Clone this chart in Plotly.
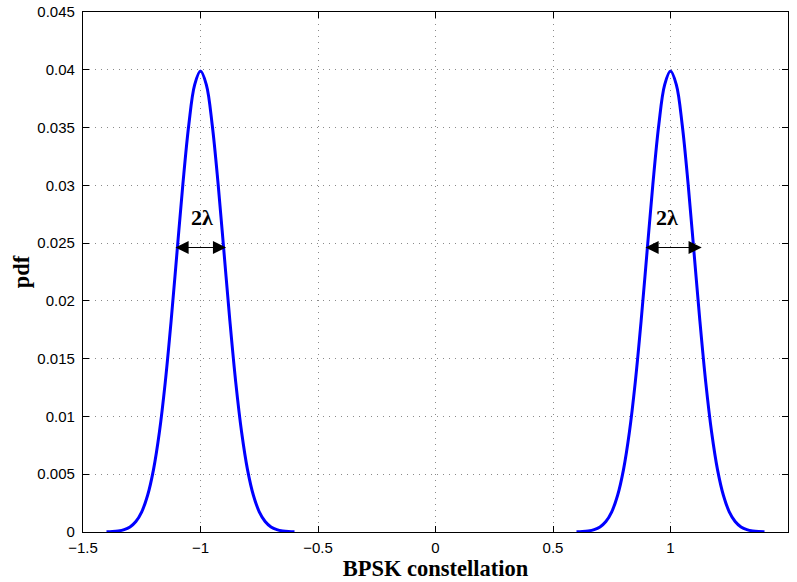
import plotly.graph_objects as go

# distance from centre (BPSK symbol) and pdf values
offsets = [-0.4, -0.375, -0.35, -0.325, -0.3, -0.275, -0.25, -0.225, -0.2, -0.175, -0.15, -0.125,
           -0.1, -0.075, -0.05, -0.025, 0.0, 0.025, 0.05, 0.075, 0.1, 0.125, 0.15, 0.175,
           0.2, 0.225, 0.25, 0.275, 0.3, 0.325, 0.35, 0.375, 0.4]
pdf_vals = [0.0000134, 0.000035, 0.0000874, 0.000203, 0.00044, 0.00091, 0.00175, 0.00318,
            0.0054, 0.00863, 0.01295, 0.01827, 0.0242, 0.0301, 0.0352, 0.0387, 0.0399,
            0.0387, 0.0352, 0.0301, 0.0242, 0.01827, 0.01295, 0.00863, 0.0054, 0.00318,
            0.00175, 0.00091, 0.00044, 0.000203, 0.0000874, 0.000035, 0.0000134]
symbols = [-1, 1]

arrow_y = 0.02462
arrow_ends = [(-1.113, -0.891), (0.887, 1.133)]
label_pos = [(-0.995, 0.02726), (0.984, 0.02726)]
label_text = "2λ"

fig = go.Figure()
for s in symbols:
    fig.add_trace(go.Scatter(
        x=[s + o for o in offsets], y=pdf_vals, mode="lines",
        line=dict(color="#0000ff", width=3, shape="spline"),
        showlegend=False, hoverinfo="skip"))

for (x0, x1), (lx, ly) in zip(arrow_ends, label_pos):
    fig.add_annotation(x=x1, y=arrow_y, ax=x0, ay=arrow_y, xref="x", yref="y",
                       axref="x", ayref="y", text="", showarrow=True,
                       arrowhead=2, startarrowhead=2, arrowside="end+start",
                       arrowsize=2.2, startarrowsize=2.2, arrowwidth=1.2,
                       arrowcolor="black")
    fig.add_annotation(x=lx, y=ly, xref="x", yref="y", text="<b>" + label_text + "</b>",
                       showarrow=False,
                       font=dict(family="Liberation Serif, Times New Roman, serif",
                                 size=22, color="black"))

axis_common = dict(
    showline=True, linecolor="black", linewidth=1.2, mirror="ticks",
    ticks="inside", ticklen=6, tickwidth=1, tickcolor="black",
    showgrid=True, gridcolor="#8a8a8a", griddash="1px,5px", gridwidth=1,
    zeroline=False, automargin=False,
    tickfont=dict(family="Liberation Sans, Arial, sans-serif", size=15, color="black"),
)

title_font = dict(family="Liberation Serif, Times New Roman, serif", size=22.5, color="black")

fig.update_xaxes(range=[-1.5, 1.5], tickvals=[-1.5, -1, -0.5, 0, 0.5, 1, 1.5],
                 ticktext=["\u22121.5", "\u22121", "\u22120.5", "0", "0.5", "1", "1.5"],
                 ticklabelstandoff=2,
                 title=dict(text="<b>BPSK constellation</b>", standoff=3, font=title_font),
                 **axis_common)
fig.update_yaxes(range=[0, 0.045],
                 tickvals=[0, 0.005, 0.01, 0.015, 0.02, 0.025, 0.03, 0.035, 0.04, 0.045],
                 ticktext=["0", "0.005", "0.01", "0.015", "0.02", "0.025", "0.03", "0.035",
                           "0.04", "0.045"],
                 ticklabelstandoff=4,
                 title=dict(text="<b>pdf</b>", standoff=1, font=title_font),
                 **axis_common)

fig.update_layout(width=797, height=582, plot_bgcolor="white", paper_bgcolor="white",
                  margin=dict(l=83, r=9, t=12, b=50))

fig.write_html("out.html", config={"displayModeBar": False},
               post_script="document.body.style.margin='0';document.body.style.overflow='hidden';")
